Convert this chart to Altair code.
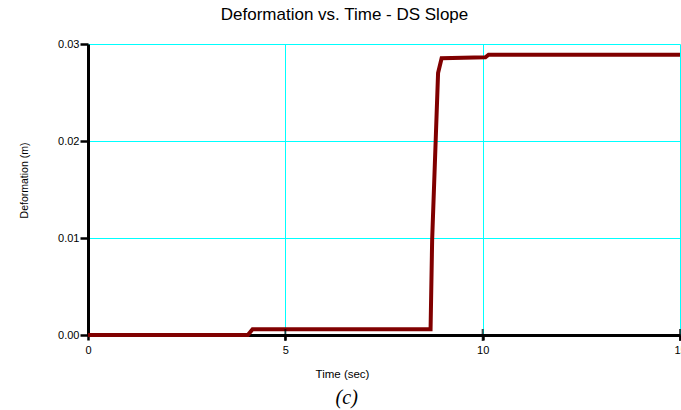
import altair as alt
import pandas as pd

# Data
time_s = [0, 4.05, 4.17, 8.68, 8.72, 8.81, 8.87, 8.96, 10.07, 10.15, 15]
deform_m = [0, 0, 0.0006, 0.0006, 0.0098, 0.0201, 0.0270, 0.02853, 0.02863, 0.02889, 0.0289]
x_ticks = [5, 10, 15]
y_ticks = [0, 0.01, 0.02, 0.03]

df = pd.DataFrame({"t": time_s, "d": deform_m})
tick_df = pd.DataFrame({"t": x_ticks, "d": [0] * len(x_ticks)})
cap_df = pd.DataFrame({"c": ["(c)"]})

FONT = "Liberation Sans"

x_enc = alt.X(
    "t:Q",
    scale=alt.Scale(domain=[0, 15], nice=False, zero=False),
    axis=alt.Axis(
        values=[0, 5, 10, 15],
        title="Time (sec)",
        titleX=254,
        titleY=39,
        titleBaseline="middle",
        titleAlign="center",
        titleFontSize=11.5,
        labelFontSize=11,
        labelFlush=False,
        tickSize=5,
        labelPadding=4,
    ),
)
y_enc = alt.Y(
    "d:Q",
    scale=alt.Scale(domain=[0, 0.03], nice=False),
    axis=alt.Axis(
        values=y_ticks,
        format=".2f",
        title="Deformation (m)",
        titleX=-64,
        titleY=136,
        titleAngle=270,
        titleBaseline="middle",
        titleAlign="center",
        titleFontSize=10.5,
        labelFontSize=11,
        labelFlush=False,
        tickSize=8,
        labelPadding=1,
    ),
)

line = alt.Chart(df).mark_line(color="#800000", strokeWidth=4, strokeJoin="miter").encode(
    x=x_enc, y=y_enc
)

ticks = alt.Chart(tick_df).mark_tick(
    orient="vertical", size=12, thickness=2, color="black"
).encode(x=x_enc, y=y_enc)

caption = alt.Chart(cap_df).mark_text(
    font="Liberation Serif", fontStyle="italic", fontSize=20, color="black",
    align="center", baseline="middle"
).encode(text="c:N", x=alt.value(258.7), y=alt.value(354))

chart = (
    alt.layer(line, ticks, caption)
    .properties(
        width=592,
        height=291,
        autosize=alt.AutoSizeParams(type="none"),
        padding={"left": 88, "top": 44, "right": 1, "bottom": 75},
        background="white",
        title=alt.TitleParams(
            "Deformation vs. Time - DS Slope",
            font=FONT,
            fontSize=17,
            fontWeight="normal",
            color="black",
            anchor="middle",
            dx=-39.5,
            offset=14,
        ),
    )
    .configure_view(stroke=None)
    .configure_axis(
        labelFont=FONT,
        titleFont=FONT,
        labelColor="black",
        titleColor="black",
        titleFontWeight="normal",
        domainColor="black",
        domainWidth=3,
        tickColor="black",
        tickWidth=2.5,
        grid=True,
        gridColor="#00FFFF",
        gridWidth=1,
        gridOpacity=1,
    )
)

chart.save("out.html", embed_options={"renderer": "svg", "actions": False})
